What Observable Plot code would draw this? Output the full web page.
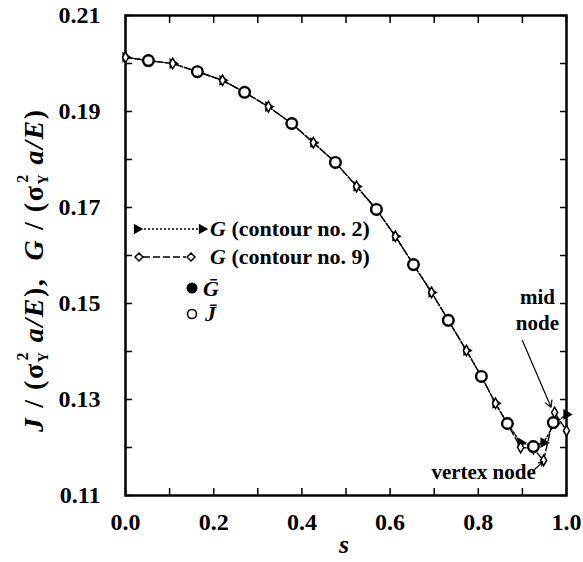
<!DOCTYPE html>
<html>
<head>
<meta charset="utf-8">
<script src="https://cdn.jsdelivr.net/npm/d3@7"></script>
<script src="https://cdn.jsdelivr.net/npm/@observablehq/plot@0.6"></script>
<style>
  html, body { margin: 0; padding: 0; background: white; }
  #chart { width: 583px; height: 562px; }
  #chart svg text { font-family: "Liberation Serif", "Times New Roman", serif; }
</style>
</head>
<body>
<div id="chart"></div>
<script>
// ---- data ----
const sNodes = [0, 0.052, 0.107, 0.163, 0.220, 0.270, 0.324, 0.377, 0.426, 0.476, 0.524, 0.569, 0.612, 0.653, 0.694, 0.732, 0.773, 0.807, 0.839, 0.866, 0.896, 0.925, 0.948, 0.973, 1.0];
const gContour2 = [0.2013, 0.2006, 0.2000, 0.1983, 0.1965, 0.1940, 0.1910, 0.1875, 0.1835, 0.1794, 0.1744, 0.1696, 0.1640, 0.1581, 0.1523, 0.1465, 0.1402, 0.1348, 0.1292, 0.1250, 0.1210, 0.1204, 0.1210, 0.1250, 0.1269];
const gContour9 = [0.2013, 0.2006, 0.2000, 0.1983, 0.1965, 0.1940, 0.1910, 0.1875, 0.1835, 0.1794, 0.1744, 0.1696, 0.1640, 0.1581, 0.1523, 0.1465, 0.1402, 0.1348, 0.1292, 0.1250, 0.1200, 0.1198, 0.1173, 0.1273, 0.1235];
const sElem = [0.052, 0.163, 0.270, 0.377, 0.476, 0.569, 0.653, 0.732, 0.807, 0.866, 0.925, 0.970];
const gBar = [0.2006, 0.1983, 0.1940, 0.1875, 0.1794, 0.1696, 0.1581, 0.1465, 0.1348, 0.1250, 0.1202, 0.1252];
const jBar = [0.2006, 0.1983, 0.1940, 0.1875, 0.1794, 0.1696, 0.1581, 0.1465, 0.1348, 0.1250, 0.1202, 0.1252];

const xTicks = [0, 0.1, 0.2, 0.3, 0.4, 0.5, 0.6, 0.7, 0.8, 0.9, 1.0];
const xTickLabels = ["0.0", "", "0.2", "", "0.4", "", "0.6", "", "0.8", "", "1.0"];
const yTicks = [0.11, 0.12, 0.13, 0.14, 0.15, 0.16, 0.17, 0.18, 0.19, 0.20, 0.21];
const yTickLabels = ["0.11", "", "0.13", "", "0.15", "", "0.17", "", "0.19", "", "0.21"];

// annotations: label position and arrow (data units)
const annoLabels = [
  {s: 0.934, v: 0.1512, text: "mid"},
  {s: 0.934, v: 0.1458, text: "node"},
  {s: 0.812, v: 0.1148, text: "vertex node"}
];
const annoArrows = [
  {s1: 0.900, v1: 0.1423, s2: 0.965, v2: 0.1284},
  {s1: 0.925, v1: 0.1152, s2: 0.946, v2: 0.1170}
];

// ---- tables built from the arrays ----
const g2 = sNodes.map((s, i) => ({s, v: gContour2[i]}));
const g9 = sNodes.map((s, i) => ({s, v: gContour9[i]}));
const gb = sElem.map((s, i) => ({s, v: gBar[i]}));
const jb = sElem.map((s, i) => ({s, v: jBar[i]}));

const lab = (ticks, labels) => d => labels[ticks.findIndex(t => Math.abs(t - d) < 1e-9)] ?? "";

const FONT = "'Liberation Serif', 'Times New Roman', serif";

const chart = Plot.plot({
  width: 583,
  height: 562,
  marginLeft: 125,
  marginRight: 17,
  marginTop: 15,
  marginBottom: 67,
  x: {domain: [0, 1]},
  y: {domain: [0.11, 0.21]},
  style: {fontFamily: FONT, fontSize: "24px", fontWeight: "bold", background: "white", color: "black"},
  marks: [
    Plot.axisX({anchor: "bottom", ticks: xTicks, tickSize: -7, tickPadding: 24, strokeWidth: 1.5, tickFormat: lab(xTicks, xTickLabels), label: null, fontFamily: FONT}),
    Plot.axisX({anchor: "top", ticks: xTicks, tickSize: -7, strokeWidth: 1.5, tickFormat: () => "", label: null}),
    Plot.axisY({anchor: "left", ticks: yTicks, tickSize: -7, tickPadding: 32, strokeWidth: 1.5, tickFormat: lab(yTicks, yTickLabels), label: null, fontFamily: FONT}),
    Plot.axisY({anchor: "right", ticks: yTicks, tickSize: -7, strokeWidth: 1.5, tickFormat: () => "", label: null}),
    Plot.frame({strokeWidth: 2.5, stroke: "black"}),
    Plot.line(g9, {x: "s", y: "v", stroke: "black", strokeWidth: 1.4, strokeDasharray: "7,3"}),
    Plot.line(g2, {x: "s", y: "v", stroke: "black", strokeWidth: 1.4, strokeDasharray: "2,2"}),
    Plot.dot(g2, {x: "s", y: "v", symbol: "triangle", rotate: 90, fill: "black", r: 4}),
    Plot.dot(g9, {x: "s", y: "v", symbol: "diamond", fill: "white", stroke: "black", strokeWidth: 1.5, r: 3.2}),
    Plot.dot(gb, {x: "s", y: "v", fill: "black", r: 4}),
    Plot.dot(jb, {x: "s", y: "v", fill: "white", stroke: "black", strokeWidth: 2.4, r: 5.3}),
    Plot.arrow(annoArrows, {x1: "s1", y1: "v1", x2: "s2", y2: "v2", stroke: "black", strokeWidth: 1.2, headLength: 9}),
    Plot.text(annoLabels, {x: "s", y: "v", text: "text", fontSize: 21, fontWeight: "bold", fill: "black", fontFamily: FONT})
  ]
});

const svg = d3.select(chart);

// y-axis title with sub/superscripts
const yt = svg.append("text")
  .attr("transform", "translate(43,271) rotate(-90)")
  .attr("text-anchor", "middle")
  .attr("font-family", FONT)
  .attr("font-size", 28)
  .attr("font-weight", "bold")
  .attr("textLength", 322)
  .attr("lengthAdjust", "spacing")
  .attr("fill", "black");
yt.append("tspan").attr("font-style", "italic").text("J");
yt.append("tspan").text(" / (σ");
yt.append("tspan").attr("font-size", 14).attr("dy", 5).text("Y");
yt.append("tspan").attr("font-size", 16).attr("dx", -10).attr("dy", -20).text("2");
yt.append("tspan").attr("dy", 15).text(" ");
yt.append("tspan").attr("font-style", "italic").text("a/E");
yt.append("tspan").text("),  ");
yt.append("tspan").attr("font-style", "italic").text("G");
yt.append("tspan").text(" / (σ");
yt.append("tspan").attr("font-size", 14).attr("dy", 5).text("Y");
yt.append("tspan").attr("font-size", 16).attr("dx", -10).attr("dy", -20).text("2");
yt.append("tspan").attr("dy", 15).text(" ");
yt.append("tspan").attr("font-style", "italic").text("a/E");
yt.append("tspan").text(")");

// x-axis title
svg.append("text")
  .attr("x", 344).attr("y", 553)
  .attr("text-anchor", "middle")
  .attr("font-family", FONT)
  .attr("font-size", 26)
  .attr("font-weight", "bold").attr("font-style", "italic")
  .attr("fill", "black")
  .text("s");

// legend
const lg = svg.append("g").attr("font-family", FONT).attr("font-size", 22).attr("font-weight", "bold").attr("fill", "black").attr("text-anchor", "start");
// row 1: G contour 2
lg.append("line").attr("x1", 140).attr("x2", 200).attr("y1", 229).attr("y2", 229).attr("stroke", "black").attr("stroke-width", 1.4).attr("stroke-dasharray", "2,2");
lg.append("path").attr("d", d3.symbol(d3.symbolTriangle, 50)()).attr("transform", "translate(137,229) rotate(90)").attr("fill", "black");
lg.append("path").attr("d", d3.symbol(d3.symbolTriangle, 50)()).attr("transform", "translate(202,229) rotate(90)").attr("fill", "black");
const t1 = lg.append("text").attr("x", 210).attr("y", 236);
t1.append("tspan").attr("font-style", "italic").text("G");
t1.append("tspan").text(" (contour no. 2)");
// row 2: G contour 9
lg.append("line").attr("x1", 143).attr("x2", 186).attr("y1", 257).attr("y2", 257).attr("stroke", "black").attr("stroke-width", 1.4).attr("stroke-dasharray", "7,3");
lg.append("path").attr("d", d3.symbol(d3.symbolDiamond2, 40)()).attr("transform", "translate(139,257)").attr("fill", "white").attr("stroke", "black").attr("stroke-width", 1.5);
lg.append("path").attr("d", d3.symbol(d3.symbolDiamond2, 40)()).attr("transform", "translate(191,257)").attr("fill", "white").attr("stroke", "black").attr("stroke-width", 1.5);
const t2 = lg.append("text").attr("x", 210).attr("y", 264);
t2.append("tspan").attr("font-style", "italic").text("G");
t2.append("tspan").text(" (contour no. 9)");
// row 3: G bar
lg.append("circle").attr("cx", 192).attr("cy", 288).attr("r", 5.5).attr("fill", "black");
lg.append("text").attr("x", 203).attr("y", 296).attr("font-style", "italic").text("Ḡ");
// row 4: J bar
lg.append("circle").attr("cx", 192).attr("cy", 314).attr("r", 4.5).attr("fill", "white").attr("stroke", "black").attr("stroke-width", 1.6);
lg.append("text").attr("x", 205).attr("y", 321).attr("font-style", "italic").text("J̄");

document.getElementById("chart").appendChild(chart);
</script>
</body>
</html>
